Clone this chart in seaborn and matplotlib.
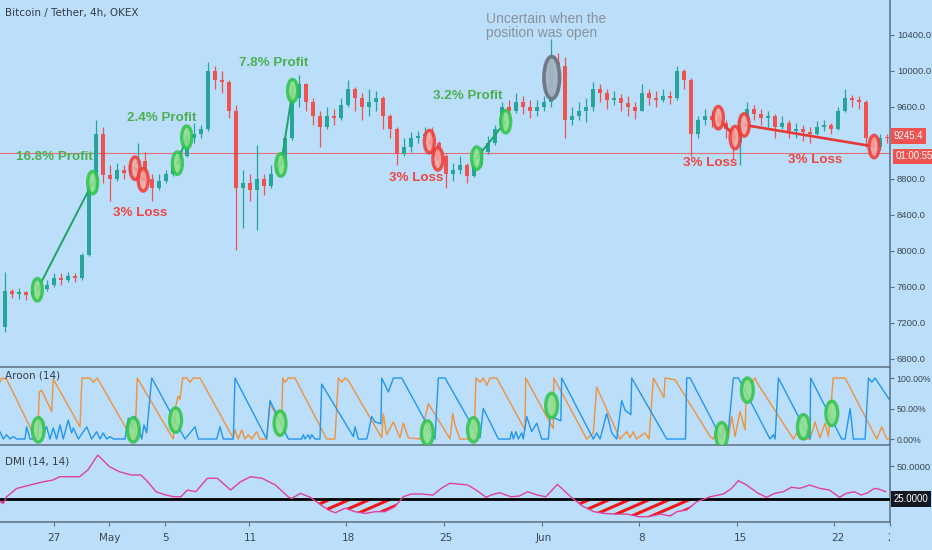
import numpy as np
import pandas as pd
import matplotlib.pyplot as plt
import matplotlib.dates as mdates
import matplotlib.transforms as mtrans
from matplotlib.patches import Ellipse
from matplotlib.path import Path
import seaborn as sns

# Data
# --------------
series_start = "2020-04-23 00:00"
candle_step = "12h"
first_open = 7050

close = [7150, 7550, 7520, 7540, 7510, 7560, 7580, 7620, 7700, 7680,
         7720, 7700, 7960, 8700, 9300, 8845, 8800, 8900, 8870, 8950,
         9000, 8800, 8700, 8780, 8850, 8950, 9050, 9250, 9300, 9350,
         10000, 9900, 9880, 9550, 8700, 8750, 8680, 8800, 8720, 8850,
         8950, 9250, 9700, 9850, 9650, 9500, 9380, 9500, 9480, 9620,
         9800, 9700, 9600, 9650, 9700, 9500, 9350, 9080, 9150, 9250,
         9280, 9300, 9200, 9050, 8850, 8900, 8950, 8830, 8950, 9100,
         9200, 9350, 9600, 9550, 9650, 9600, 9550, 9600, 9650, 10100,
         10050, 9450, 9500, 9550, 9600, 9800, 9750, 9680, 9700, 9640,
         9600, 9560, 9750, 9700, 9680, 9720, 9700, 10000, 9900, 9300,
         9450, 9500, 9450, 9420, 9350, 9200, 9450, 9580, 9520, 9480,
         9500, 9380, 9420, 9330, 9350, 9320, 9300, 9380, 9400, 9350,
         9550, 9700, 9680, 9650, 9250, 9150, 9250, 9245.4]
high = [7250, 7770, 7580, 7590, 7560, 7620, 7640, 7680, 7760, 7750,
        7770, 7760, 7980, 8800, 9460, 9380, 8950, 8980, 8960, 9020,
        9200, 9100, 8850, 8850, 8900, 9000, 9120, 9300, 9420, 9400,
        10100, 10050, 10000, 9900, 9620, 8900, 8850, 9180, 8850, 8950,
        9050, 9300, 9850, 9950, 9870, 9700, 9550, 9600, 9580, 9700,
        9900, 9820, 9760, 9800, 9780, 9720, 9520, 9380, 9250, 9320,
        9330, 9380, 9380, 9220, 9080, 8980, 9050, 8980, 9050, 9150,
        9280, 9400, 9650, 9680, 9750, 9720, 9680, 9680, 9720, 10350,
        10200, 10150, 9600, 9650, 9700, 9880, 9850, 9800, 9780, 9740,
        9720, 9650, 9850, 9800, 9780, 9800, 9780, 10050, 10020, 9920,
        9500, 9580, 9550, 9520, 9450, 9370, 9520, 9650, 9620, 9580,
        9560, 9520, 9500, 9450, 9420, 9400, 9380, 9440, 9450, 9420,
        9600, 9800, 9730, 9720, 9680, 9280, 9300, 9300]
low = [7030, 7100, 7480, 7470, 7450, 7500, 7500, 7560, 7600, 7620,
       7660, 7650, 7680, 7940, 8650, 8750, 8550, 8780, 8800, 8850,
       8900, 8750, 8560, 8680, 8760, 8830, 8930, 9040, 9200, 9250,
       9330, 9800, 9750, 9480, 8013, 8250, 8550, 8230, 8620, 8700,
       8830, 8930, 9230, 9600, 9550, 9400, 9150, 9350, 9400, 9460,
       9600, 9550, 9450, 9500, 9550, 9350, 9250, 8950, 9050, 9100,
       9200, 9220, 9150, 8950, 8700, 8780, 8850, 8760, 8820, 8930,
       9080, 9180, 9330, 9450, 9530, 9520, 9480, 9500, 9560, 9600,
       9950, 9250, 9400, 9460, 9430, 9550, 9650, 9580, 9620, 9560,
       9500, 9470, 9550, 9620, 9600, 9650, 9630, 9680, 9800, 9050,
       9250, 9400, 9380, 9350, 9250, 9020, 8950, 9440, 9450, 9400,
       9380, 9250, 9350, 9250, 9260, 9220, 9200, 9290, 9330, 9300,
       9340, 9540, 9600, 9580, 9150, 9050, 9120, 9200]
price_line = 9090
countdown = "01:00:55"

# trades marked on the chart
trade_open_time = ["2020-04-25 19:30", "2020-05-02 19:00", "2020-05-05 19:30", "2020-05-13 05:00",
                   "2020-05-23 19:30", "2020-05-27 04:30", "2020-06-13 10:45", "2020-06-15 07:00"]
trade_open_price = [7569, 8920, 8975, 8956, 9215, 9031, 9481, 9400]
trade_close_time = ["2020-04-29 18:15", "2020-05-03 09:00", "2020-05-06 11:30", "2020-05-14 01:00",
                    "2020-05-24 10:00", "2020-05-29 06:15", "2020-06-14 15:30", "2020-06-24 13:45"]
trade_close_price = [8760, 8790, 9264, 9781, 9023, 9437, 9259, 9160]
trade_result = ["profit", "loss", "profit", "profit", "loss", "profit", "loss", "loss"]
uncertain_time = "2020-06-01 13:15"
uncertain_price = 9925

note_text = ["16.8% Profit", "3% Loss", "2.4% Profit", "7.8% Profit", "3% Loss",
             "3.2% Profit", "3% Loss", "3% Loss"]
note_day = [4.04, 10.14, 11.71, 19.68, 29.89, 33.57, 50.89, 58.39]
note_price = [9045, 8423, 9478, 10088, 8812, 9722, 8978, 9012]
note_kind = ["profit", "loss", "profit", "profit", "loss", "profit", "loss", "loss"]
uncertain_note = "Uncertain when the\nposition was open"
uncertain_note_day = 34.86
uncertain_note_price = 10499

# Aroon (14), vertices in days since series start
aroon_up_day = [0.14, 0.26, 0.62, 2.64, 2.84, 2.95, 3.12, 3.84, 3.95, 5.86,
                6.0, 6.57, 6.81, 7.09, 9.55, 9.79, 9.95, 12.52, 12.71, 12.86,
                13.0, 13.19, 13.48, 13.71, 13.95, 14.43, 16.79, 16.93, 17.16, 17.41,
                17.64, 17.88, 18.12, 18.48, 18.71, 19.19, 19.43, 20.26, 20.34, 20.5,
                20.74, 21.21, 23.48, 24.07, 24.31, 24.55, 24.79, 25.02, 27.41, 27.52,
                27.76, 28.24, 28.71, 28.95, 29.31, 30.14, 30.74, 32.29, 32.48, 32.64,
                33.0, 34.0, 34.14, 34.43, 34.66, 34.91, 35.14, 35.62, 37.64, 37.69,
                39.66, 39.7, 42.05, 42.52, 42.76, 44.43, 44.91, 45.14, 45.38, 45.6,
                46.2, 46.5, 46.81, 47.57, 47.64, 48.36, 50.86, 51.09, 51.21, 51.45,
                51.93, 52.16, 52.41, 52.64, 53.0, 53.36, 53.48, 53.84, 54.07, 54.19,
                56.81, 57.05, 57.29, 58.0, 58.36, 58.71, 59.07, 59.31, 59.66, 60.5,
                62.76, 63.12, 63.48, 63.71]
aroon_up = [93, 100, 98, 3, 2, 77, 80, 45, 98, 20,
            100, 100, 93, 100, 2, 0, 100, 0, 55, 70,
            65, 100, 100, 93, 100, 100, 2, 15, 0, 15,
            0, 7, 0, 12, 0, 0, 58, 23, 100, 93,
            100, 100, 0, 0, 100, 93, 100, 96, 2, 42,
            7, 28, 2, 26, 2, 0, 58, 0, 42, 23,
            0, 0, 100, 93, 100, 88, 100, 100, 15, 100,
            17, 100, 0, 10, 85, 0, 12, 2, 12, 0,
            10, 0, 100, 68, 100, 97, 4, 0, 7, 0,
            23, 4, 37, 4, 45, 15, 100, 93, 100, 93,
            0, 10, 0, 0, 28, 2, 26, 4, 100, 100,
            0, 20, 0, 0]
aroon_down_day = [0.14, 0.38, 0.62, 0.86, 1.09, 1.34, 1.93, 2.05, 2.29, 2.76,
                  3.0, 3.24, 3.48, 3.71, 3.95, 4.19, 4.43, 4.66, 5.02, 5.26,
                  5.38, 5.74, 6.34, 6.69, 7.05, 7.29, 7.52, 7.76, 8.0, 8.24,
                  9.07, 9.31, 9.55, 9.79, 10.26, 10.43, 10.62, 10.98, 13.36, 14.07,
                  14.31, 15.62, 15.86, 16.09, 16.81, 16.93, 19.19, 19.43, 20.74, 21.69,
                  21.81, 21.93, 22.16, 22.29, 22.41, 22.64, 23.0, 23.12, 25.38, 25.5,
                  25.74, 26.34, 26.45, 26.69, 26.93, 27.35, 27.41, 27.88, 28.24, 28.84, 31.21,
                  31.45, 31.93, 34.31, 34.43, 34.66, 35.74, 36.57, 36.69, 36.81, 37.0,
                  37.16, 37.41, 37.52, 37.76, 38.12, 38.48, 38.84, 39.31, 39.43, 40.2, 40.26,
                  42.52, 42.76, 43.0, 43.48, 43.84, 44.19, 44.55, 44.79, 45.2, 45.26, 47.76,
                  49.1, 49.19, 49.43, 51.69, 51.93, 52.16, 52.52, 52.88, 55.14, 55.38, 55.5,
                  55.74, 58.0, 58.04, 60.26, 60.5, 60.86, 61.09, 61.93, 62.17, 62.41,
                  62.64, 63.71]
aroon_down = [12, 0, 7, 0, 4, 0, 0, 20, 0, 0,
              34, 12, 20, 0, 18, 0, 23, 0, 31, 10,
              18, 0, 20, 0, 12, 0, 10, 0, 4, 0,
              0, 34, 18, 37, 0, 23, 10, 100, 0, 20,
              0, 0, 20, 0, 0, 100, 0, 63, 0, 0,
              7, 0, 7, 0, 7, 0, 0, 90, 4, 20,
              0, 0, 10, 37, 28, 25, 100, 77, 100, 100, 0,
              100, 100, 4, 2, 50, 0, 0, 12, 0, 12,
              0, 10, 0, 37, 12, 26, 0, 0, 37, 30, 100,
              0, 10, 0, 42, 10, 0, 63, 47, 40, 100, 0,
              0, 100, 100, 0, 20, 12, 100, 100, 0, 7, 0,
              100, 0, 100, 0, 0, 50, 0, 0, 100, 93,
              100, 63]
aroon_mark_time = ["2020-04-25 21:00", "2020-05-02 16:00", "2020-05-05 16:30", "2020-05-13 03:30",
                   "2020-05-23 16:00", "2020-05-26 23:00", "2020-06-01 13:00", "2020-06-13 16:30",
                   "2020-06-15 12:30", "2020-06-19 12:30", "2020-06-21 13:15"]
aroon_mark_value = [15, 15, 31, 26, 10, 15, 55, 7, 80, 20, 42]

# DMI (14, 14) - ADX line
dmi_day = [0.14, 0.38, 0.62, 1.34, 2.29, 3.24, 3.95, 4.43, 5.86, 6.45,
           7.16, 8.0, 8.71, 9.55, 10.26, 10.74, 11.34, 12.05, 12.64, 13.12,
           13.59, 14.19, 15.02, 15.74, 16.69, 17.41, 18.12, 18.95, 19.91, 20.86,
           21.09, 21.69, 22.41, 23.0, 23.71, 24.19, 24.91, 25.62, 26.34, 27.05,
           27.76, 28.48, 29.07, 29.66, 30.38, 31.21, 31.81, 32.41, 33.0, 33.71,
           34.31, 35.02, 35.38, 35.98, 36.81, 37.41, 38.0, 38.71, 39.31, 40.14,
           41.09, 41.93, 42.76, 43.48, 44.31, 45.14, 45.98, 46.69, 47.52, 48.24,
           48.71, 49.43, 50.14, 51.09, 52.05, 52.64, 53.12, 53.71, 54.55, 55.14,
           55.74, 56.34, 56.93, 57.52, 58.24, 58.95, 59.66, 60.38, 60.86, 61.45,
           61.93, 62.41, 62.88, 63.24, 63.71]
adx = [23, 21.7, 26.7, 33, 35.6, 38, 39.4, 41.9, 41.9, 47,
       58.3, 49.5, 45.7, 43.2, 43.2, 38.1, 30.5, 28, 26.7, 26.7,
       31.8, 30.5, 40.7, 40.7, 31.8, 38.1, 41.9, 40.7, 35.6, 26.3,
       25.5, 29.3, 26.3, 21.7, 16.7, 14.6, 18, 15.4, 14.1, 15.4,
       15.4, 19.2, 26.7, 28.8, 28.8, 28, 33.1, 36.9, 36.4, 35.6,
       31.8, 26.3, 28, 29.8, 26.7, 27.3, 30.5, 28, 26.7, 36.1,
       26.7, 19.7, 15.4, 14.1, 13.6, 13.6, 11.6, 11.6, 13.6, 12.1,
       15.4, 16.7, 23, 26.7, 28.8, 33.1, 38.9, 35.6, 29.3, 26.3,
       29.3, 30.5, 33.9, 33.1, 35.6, 33.1, 31.8, 26.3, 29.3, 30.5,
       28, 29.8, 33.1, 32.3, 30.5]
adx_level = 25

view_start = "2020-04-23 03:30"
view_end = "2020-06-25 17:00"
tick_dates = ["2020-04-27", "2020-05-01", "2020-05-05", "2020-05-11", "2020-05-18", "2020-05-25",
              "2020-06-01", "2020-06-08", "2020-06-15", "2020-06-22", "2020-06-26"]
tick_labels = ["27", "May", "5", "11", "18", "25", "Jun", "8", "15", "22", "26"]
price_ticks = [6800, 7200, 7600, 8000, 8400, 8800, 9600, 10000, 10400]

# Set-up
# --------------
bg = "#bbdefb"
frame = "#5d6e7e"
tick_col = "#3d4852"
up_col, down_col = "#26a69a", "#ef5350"
green_txt, red_txt = "#4caf50", "#ef453f"

sns.set_theme(style="white", rc={"axes.facecolor": bg, "figure.facecolor": bg,
                                 "savefig.facecolor": bg})
plt.rcParams["font.family"] = ["DejaVu Sans"]
note_font = ["Liberation Sans Narrow", "Liberation Sans", "DejaVu Sans"]
axis_font = ["Liberation Sans", "DejaVu Sans"]


def to_num(values):
    return mdates.date2num(pd.to_datetime(values))


t0 = mdates.date2num(pd.Timestamp(series_start))
xlim = (to_num([view_start])[0], to_num([view_end])[0])

fig = plt.figure(figsize=(9.32, 5.5), dpi=100)
W, H = 932, 550
ax = fig.add_axes([0, 183 / H, 890 / W, 367 / H])
ax_a = fig.add_axes([0, 105 / H, 890 / W, 77 / H])
ax_d = fig.add_axes([0, 28 / H, 890 / W, 75 / H])
ax_x = fig.add_axes([0, 0, 890 / W, 27 / H])

for a in (ax, ax_a, ax_d):
    a.set_xlim(*xlim)
    for side in ("top", "left"):
        a.spines[side].set_visible(False)
    for side in ("bottom", "right"):
        a.spines[side].set_color(frame)
        a.spines[side].set_linewidth(1.1)
    a.yaxis.tick_right()
    a.tick_params(axis="y", length=3, width=0.8, color=frame, labelsize=6.8,
                  labelcolor=tick_col, pad=2, right=True, left=False)
    a.tick_params(axis="x", bottom=False, labelbottom=False)

# Price panel
# --------------
c = np.array(close, dtype=float)
o = np.r_[first_open, c[:-1]]
t = to_num(pd.date_range(series_start, periods=len(c), freq=candle_step))
cols = np.where(c >= o, up_col, down_col)
body = c - o
body = np.where(np.abs(body) < 15, 15, body)
ax.vlines(t, low, high, colors=cols, lw=0.9, zorder=2)
ax.bar(t, body, bottom=o, width=0.3, color=cols, linewidth=0, zorder=3)
ax.axhline(price_line, color="#ec6461", lw=0.8, alpha=0.9, zorder=1)

ax.set_ylim(6711, 10788)
ax.set_yticks(price_ticks)
ax.set_yticklabels([f"{p:.1f}" for p in price_ticks], family=axis_font)

for ot, op, ct, cp, kind in zip(to_num(trade_open_time), trade_open_price,
                                to_num(trade_close_time), trade_close_price, trade_result):
    if kind == "profit":
        lc, ec, fc, lw = "#1fa463", "#2fc34a", "#8ee08c", 1.4
    else:
        lc, ec, fc, lw = "#e53935", "#f03a35", "#f5a5a0", 1.9
    ax.plot([ot, ct], [op, cp], color=lc, lw=lw, zorder=4)
    for et, ep in ((ot, op), (ct, cp)):
        ax.add_patch(Ellipse((et, ep), width=0.72, height=250, fc=fc, ec=ec,
                             lw=2.4, alpha=0.85, zorder=5))

ut = to_num([uncertain_time])[0]
ax.add_patch(Ellipse((ut, uncertain_price), width=1.12, height=470, fc="#a7b3c2",
                     ec="#6b7482", lw=2.6, alpha=0.95, zorder=5))

for txt, d, p, kind in zip(note_text, note_day, note_price, note_kind):
    ax.text(t0 + d, p, txt, ha="center", va="center", fontsize=9.6, weight="bold",
            family=note_font, color=green_txt if kind == "profit" else red_txt, zorder=6)
ax.text(t0 + uncertain_note_day, uncertain_note_price, uncertain_note, ha="left", va="center",
        fontsize=10, family=note_font, color="#8b929b", linespacing=1.0, zorder=6)

ax.text(5 / 890, 1 - 13 / 367, "Bitcoin / Tether, 4h, OKEX", transform=ax.transAxes,
        ha="left", va="center", fontsize=7.5, color="#363c45")

trans = mtrans.blended_transform_factory(ax.transAxes, ax.transData)
ax.text(1.004, c[-1] + 30, f"{c[-1]:.1f}", transform=trans, ha="left", va="center",
        fontsize=6.9, family=axis_font, color="white", clip_on=False, zorder=7,
        bbox=dict(boxstyle="square,pad=0.28", fc="#ef5350", ec="none"))
ax.text(1.006, price_line - 40, countdown, transform=trans, ha="left", va="center",
        fontsize=6.9, family=axis_font, color="white", clip_on=False, zorder=7,
        bbox=dict(boxstyle="square,pad=0.28", fc="#ef5350", ec="none"))

# Aroon panel
# --------------
sns.lineplot(x=t0 + np.array(aroon_up_day), y=aroon_up, ax=ax_a, color="#f0923a",
             lw=1.0, estimator=None, sort=False)
sns.lineplot(x=t0 + np.array(aroon_down_day), y=aroon_down, ax=ax_a, color="#2196f3",
             lw=1.0, estimator=None, sort=False)
for mt, mv in zip(to_num(aroon_mark_time), aroon_mark_value):
    ax_a.add_patch(Ellipse((mt, mv), width=0.85, height=40, fc="#8ee08c", ec="#2fc34a",
                           lw=2.4, alpha=0.85, zorder=5))
ax_a.set_ylim(-9.8, 116.4)
ax_a.set_yticks([0, 50, 100])
ax_a.set_yticklabels(["0.00%", "50.00%", "100.00%"], family=axis_font)
ax_a.tick_params(axis="y", labelsize=6.3, pad=1.5)
ax_a.set_xlim(*xlim)
ax_a.text(5 / 890, 0.9, "Aroon (14)", transform=ax_a.transAxes, ha="left", va="center",
          fontsize=7.5, color="#363c45")

# DMI panel
# --------------
dx = t0 + np.array(dmi_day)
adx_arr = np.array(adx)
d_ylim = (7.6, 64.4)
weak = ax_d.fill_between(dx, adx_arr, adx_level, where=adx_arr < adx_level, interpolate=True,
                         facecolor="none", linewidth=0, zorder=2)
# shallow red hatching inside the weak-trend zones
weak_path = Path.make_compound_path(*weak.get_paths())
level_ax = (adx_level - d_ylim[0]) / (d_ylim[1] - d_ylim[0])
for k in np.arange(-0.08, 1.0, 20 / 890):
    hl, = ax_d.plot([k, k + 62 / 890], [level_ax - 27 / 75, level_ax], transform=ax_d.transAxes,
                    color="#f21515", lw=2.2, solid_capstyle="butt", zorder=2)
    hl.set_clip_path(weak_path, ax_d.transData)
ax_d.axhline(adx_level, color="black", lw=2.0, zorder=3)
sns.lineplot(x=dx, y=adx_arr, ax=ax_d, color="#e0409c", lw=1.0, estimator=None,
             sort=False, zorder=4)
ax_d.set_ylim(*d_ylim)
ax_d.set_yticks([50])
ax_d.set_yticklabels(["50.0000"], family=axis_font)
ax_d.set_xlim(*xlim)
ax_d.set_xticks(to_num(tick_dates))
ax_d.tick_params(axis="x", bottom=True, length=3, width=0.8, color=frame, labelbottom=False)
ax_d.text(5 / 890, 0.8, "DMI (14, 14)", transform=ax_d.transAxes, ha="left", va="center",
          fontsize=7.5, color="#363c45")
trans_d = mtrans.blended_transform_factory(ax_d.transAxes, ax_d.transData)
ax_d.text(1.004, adx_level, f"{adx_level:.4f}", transform=trans_d, ha="left", va="center",
          fontsize=6.9, family=axis_font, color="white", clip_on=False, zorder=7,
          bbox=dict(boxstyle="square,pad=0.3", fc="#131722", ec="none"))

# date strip
ax_x.set_xlim(*xlim)
ax_x.set_ylim(0, 1)
ax_x.axis("off")
for td, tl in zip(to_num(tick_dates), tick_labels):
    ax_x.text(td, 0.45, tl, ha="center", va="center", fontsize=7.5, color=tick_col, clip_on=True)

for a in (ax, ax_a, ax_d):
    a.set_xlabel("")
    a.set_ylabel("")

# Rendering
# --------------
fig.savefig("out.png", dpi=100)
